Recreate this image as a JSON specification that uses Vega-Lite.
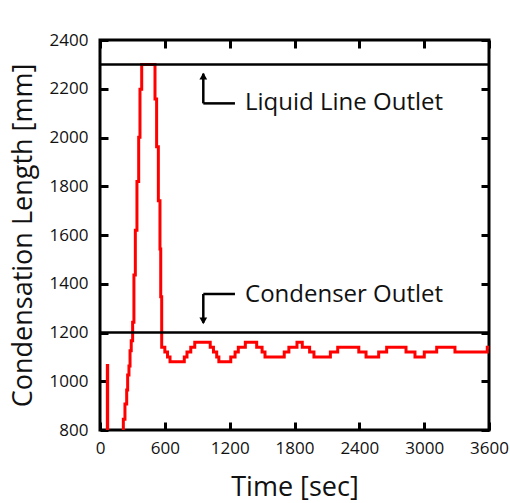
{
  "$schema": "https://vega.github.io/schema/vega-lite/v6.json",
  "width": 389,
  "height": 390,
  "autosize": "none",
  "padding": {"left": 100, "top": 40, "right": 21, "bottom": 73},
  "background": "white",
  "config": {
    "view": {"stroke": "black", "strokeWidth": 3},
    "font": "Open Sans",
    "axis": {
      "domain": false,
      "grid": false,
      "ticks": true,
      "tickColor": "black",
      "tickWidth": 3,
      "tickSize": 8,
      "offset": -8,
      "format": "d",
      "labelFont": "Open Sans",
      "labelFontSize": 17,
      "labelColor": "#111",
      "labelOverlap": false,
      "labelFlush": false,
      "titleFont": "Open Sans",
      "titleFontSize": 27,
      "titleFontWeight": "normal",
      "titleColor": "#111"
    }
  },
  "resolve": {"axis": {"x": "independent", "y": "independent"}},
  "layer": [
    {
      "data": {"values": [
        {"t": 0, "v": 300}, {"t": 68, "v": 1065}, {"t": 71, "v": 300},
        {"t": 216, "v": 844}, {"t": 231, "v": 907}, {"t": 247, "v": 964},
        {"t": 256, "v": 1026}, {"t": 268, "v": 1063}, {"t": 278, "v": 1125},
        {"t": 289, "v": 1166}, {"t": 302, "v": 1242}, {"t": 314, "v": 1436},
        {"t": 327, "v": 1620}, {"t": 342, "v": 1819}, {"t": 358, "v": 2001},
        {"t": 370, "v": 2198}, {"t": 386, "v": 2300},
        {"t": 509, "v": 2158}, {"t": 524, "v": 1962}, {"t": 540, "v": 1741},
        {"t": 555, "v": 1543}, {"t": 562, "v": 1347}, {"t": 571, "v": 1140},
        {"t": 600, "v": 1120}, {"t": 625, "v": 1100}, {"t": 648, "v": 1080},
        {"t": 780, "v": 1100}, {"t": 805, "v": 1120}, {"t": 840, "v": 1140},
        {"t": 877, "v": 1160}, {"t": 1020, "v": 1140}, {"t": 1050, "v": 1120},
        {"t": 1080, "v": 1100}, {"t": 1100, "v": 1080}, {"t": 1210, "v": 1100},
        {"t": 1250, "v": 1120}, {"t": 1280, "v": 1140}, {"t": 1345, "v": 1160},
        {"t": 1450, "v": 1140}, {"t": 1500, "v": 1120}, {"t": 1527, "v": 1100},
        {"t": 1705, "v": 1120}, {"t": 1748, "v": 1140}, {"t": 1823, "v": 1160},
        {"t": 1872, "v": 1140}, {"t": 1940, "v": 1120}, {"t": 1980, "v": 1100},
        {"t": 2132, "v": 1120}, {"t": 2200, "v": 1140}, {"t": 2395, "v": 1120},
        {"t": 2462, "v": 1100}, {"t": 2579, "v": 1120}, {"t": 2653, "v": 1140},
        {"t": 2832, "v": 1120}, {"t": 2915, "v": 1100}, {"t": 3001, "v": 1120},
        {"t": 3116, "v": 1140}, {"t": 3285, "v": 1120}, {"t": 3584, "v": 1140},
        {"t": 3600, "v": 1140}
      ]},
      "mark": {"type": "line", "interpolate": "step-after", "color": "#ff0000", "strokeWidth": 3, "clip": true},
      "encoding": {
        "x": {"field": "t", "type": "quantitative",
          "scale": {"domain": [0, 3600], "nice": false, "zero": false},
          "axis": {"orient": "bottom", "values": [0, 600, 1200, 1800, 2400, 3000, 3600], "labelPadding": 10, "title": "Time [sec]", "titlePadding": 18}},
        "y": {"field": "v", "type": "quantitative",
          "scale": {"domain": [800, 2400], "nice": false, "zero": false},
          "axis": {"orient": "left", "values": [800, 1000, 1200, 1400, 1600, 1800, 2000, 2200, 2400], "labelPadding": 12, "title": "Condensation Length [mm]", "titlePadding": 12}}
      }
    },
    {
      "data": {"values": [{"level": 2300}, {"level": 1200}]},
      "mark": {"type": "rule", "color": "black", "strokeWidth": 2.5},
      "encoding": {
        "y": {"field": "level", "type": "quantitative", "axis": null}
      }
    },
    {
      "data": {"values": [
        {"ta": 956, "va": 2140, "tb": 956, "vb": 2262},
        {"ta": 956, "va": 2140, "tb": 1249, "vb": 2140},
        {"ta": 956, "va": 1358, "tb": 1249, "vb": 1358},
        {"ta": 956, "va": 1358, "tb": 956, "vb": 1240}
      ]},
      "mark": {"type": "rule", "color": "black", "strokeWidth": 2.5},
      "encoding": {
        "x": {"field": "ta", "type": "quantitative", "axis": null},
        "y": {"field": "va", "type": "quantitative", "axis": null},
        "x2": {"field": "tb"},
        "y2": {"field": "vb"}
      }
    },
    {
      "data": {"values": [{"t": 956, "v": 2252}]},
      "mark": {"type": "point", "shape": "triangle-up", "filled": true, "color": "black", "size": 60, "opacity": 1},
      "encoding": {
        "x": {"field": "t", "type": "quantitative", "axis": null},
        "y": {"field": "v", "type": "quantitative", "axis": null}
      }
    },
    {
      "data": {"values": [{"t": 956, "v": 1248}]},
      "mark": {"type": "point", "shape": "triangle-down", "filled": true, "color": "black", "size": 60, "opacity": 1},
      "encoding": {
        "x": {"field": "t", "type": "quantitative", "axis": null},
        "y": {"field": "v", "type": "quantitative", "axis": null}
      }
    },
    {
      "data": {"values": [
        {"label": "Liquid Line Outlet", "t": 1342, "v": 2140},
        {"label": "Condenser Outlet", "t": 1342, "v": 1352}
      ]},
      "mark": {"type": "text", "align": "left", "baseline": "middle", "font": "Open Sans", "fontSize": 24, "color": "#111"},
      "encoding": {
        "x": {"field": "t", "type": "quantitative",
          "axis": {"orient": "top", "values": [0, 600, 1200, 1800, 2400, 3000, 3600], "labels": false, "title": null}},
        "y": {"field": "v", "type": "quantitative",
          "axis": {"orient": "right", "values": [800, 1000, 1200, 1400, 1600, 1800, 2000, 2200, 2400], "labels": false, "title": null}},
        "text": {"field": "label", "type": "nominal"}
      }
    }
  ]
}
